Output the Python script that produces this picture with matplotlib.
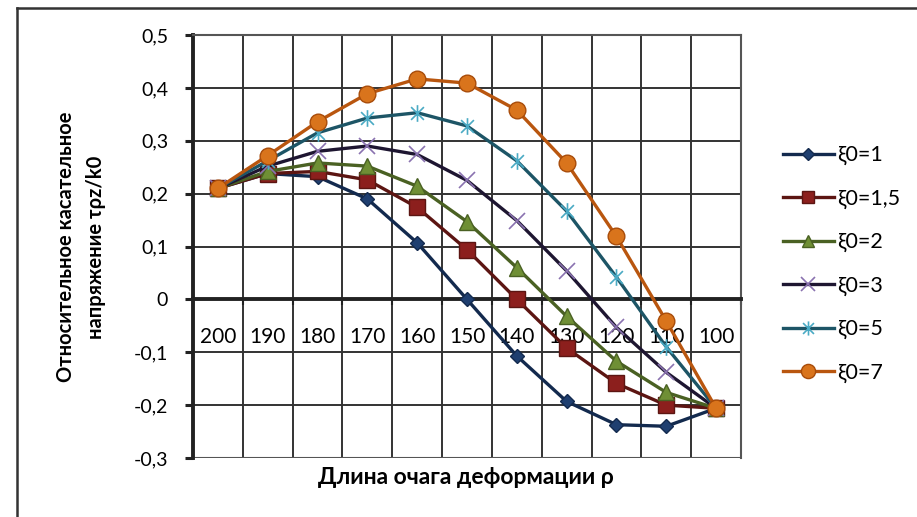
import matplotlib
matplotlib.use("Agg")
import matplotlib.pyplot as plt
from matplotlib.path import Path
from matplotlib.lines import Line2D

plt.rcParams['font.family'] = ['Lato', 'Open Sans', 'DejaVu Sans']

# длина очага деформации
rho = ["200", "190", "180", "170", "160", "150", "140", "130", "120", "110", "100"]

xi_1 = [0.21, 0.238, 0.232, 0.19, 0.107, 0.0, -0.107, -0.193, -0.237, -0.24, -0.206]
xi_1_5 = [0.21, 0.238, 0.242, 0.226, 0.174, 0.094, 0.0, -0.092, -0.159, -0.2, -0.206]
xi_2 = [0.21, 0.242, 0.258, 0.252, 0.214, 0.147, 0.06, -0.032, -0.117, -0.176, -0.206]
xi_3 = [0.21, 0.252, 0.28, 0.29, 0.274, 0.225, 0.149, 0.054, -0.053, -0.138, -0.206]
xi_5 = [0.21, 0.262, 0.315, 0.343, 0.353, 0.328, 0.262, 0.167, 0.042, -0.09, -0.206]
xi_7 = [0.21, 0.272, 0.336, 0.389, 0.417, 0.409, 0.358, 0.258, 0.119, -0.041, -0.206]

labels = ["ξ0=1", "ξ0=1,5", "ξ0=2", "ξ0=3", "ξ0=5", "ξ0=7"]

y_ticks = [-0.3, -0.2, -0.1, 0, 0.1, 0.2, 0.3, 0.4, 0.5]
y_tick_labels = ["-0,3", "-0,2", "-0,1", "0", "0,1", "0,2", "0,3", "0,4", "0,5"]

# звёздочка как в Excel: крест + вертикальная черта
star = Path([(-1, -1), (1, 1), (-1, 1), (1, -1), (0, -1.3), (0, 1.3)],
            [Path.MOVETO, Path.LINETO, Path.MOVETO, Path.LINETO, Path.MOVETO, Path.LINETO])

styles = [
    dict(color='#132a4e', marker='D', ms=7, mfc='#1f3f70', mec='#132a4e'),
    dict(color='#5c1512', marker='s', ms=11, mfc='#8c1f1d', mec='#5c1512'),
    dict(color='#4a6123', marker='^', ms=11, mfc='#6f8f35', mec='#4a6123'),
    dict(color='#1e1631', marker='x', ms=12, mfc='none', mec='#8a72b0', mew=1.2),
    dict(color='#1d5566', marker=star, ms=12, mfc='none', mec='#4aaac4', mew=1.2),
    dict(color='#b9560f', marker='o', ms=12, mfc='#d9741c', mec='#a84c0a'),
]

fig = plt.figure(figsize=(9.17, 5.17), dpi=100)
ax = fig.add_axes([193 / 917, 1 - 458 / 517, 548 / 917, 423 / 517])

x = list(range(len(rho)))
series = [xi_1, xi_1_5, xi_2, xi_3, xi_5, xi_7]
handles = []
for vals, st, lab in zip(series, styles, labels):
    line, = ax.plot(x, vals, lw=2.4, label=lab, zorder=3, **st)
    handles.append(line)

# ось категорий проходит через ноль (set_position сбрасывает тики, поэтому сначала)
ax.spines['bottom'].set_position(('data', 0))
ax.spines['bottom'].set_linewidth(2.8)
ax.spines['bottom'].set_color('#222222')
ax.spines['left'].set_linewidth(2.8)
ax.spines['left'].set_color('#222222')
for s in ['top', 'right']:
    ax.spines[s].set_color('#555555')
    ax.spines[s].set_linewidth(1.5)

ax.set_xlim(-0.5, len(rho) - 0.5)
ax.set_ylim(-0.3, 0.5)
ax.set_yticks(y_ticks)
ax.set_yticklabels(y_tick_labels)
ax.set_xticks(x)
ax.set_xticklabels(rho)
ax.set_xticks([i - 0.5 for i in range(len(rho) + 1)], minor=True)

ax.tick_params(axis='x', which='major', length=0, pad=20, labelsize=15)
ax.tick_params(axis='x', which='minor', length=4, width=1.5, direction='out', color='#222222')
ax.tick_params(axis='y', which='major', length=6, width=2.2, direction='out', color='#222222',
               pad=12, labelsize=14)

ax.grid(True, which='major', axis='y', color='#333333', lw=1.4)
ax.grid(True, which='minor', axis='x', color='#333333', lw=1.4)
ax.axhline(-0.3, color='#555555', lw=1.5)
ax.set_axisbelow(True)

ax.legend(handles=handles, loc='center left', bbox_to_anchor=(774 / 917, 1 - 264 / 517),
          bbox_transform=fig.transFigure, frameon=False, fontsize=15.5,
          handlelength=2.4, handletextpad=0.15, labelspacing=1.08, borderaxespad=0,
          markerscale=0.85)

fig.text(466 / 917, 1 - 478 / 517, "Длина очага деформации ρ", fontsize=16.5,
         fontweight='bold', ha='center', va='center')
fig.text(81 / 917, 1 - 247 / 517, "Относительное касательное\nнапряжение τρz/k0",
         fontsize=14.5, fontweight='bold', rotation=90, ha='center', va='center',
         multialignment='center', linespacing=1.6)

# рамка диаграммы
fig.add_artist(Line2D([17 / 917, 1], [1 - 8 / 517, 1 - 8 / 517], color='#333333', lw=1.8,
                      transform=fig.transFigure))
fig.add_artist(Line2D([17 / 917, 17 / 917], [0, 1 - 8 / 517], color='#333333', lw=1.8,
                      transform=fig.transFigure))

fig.savefig("out.png", dpi=100)
